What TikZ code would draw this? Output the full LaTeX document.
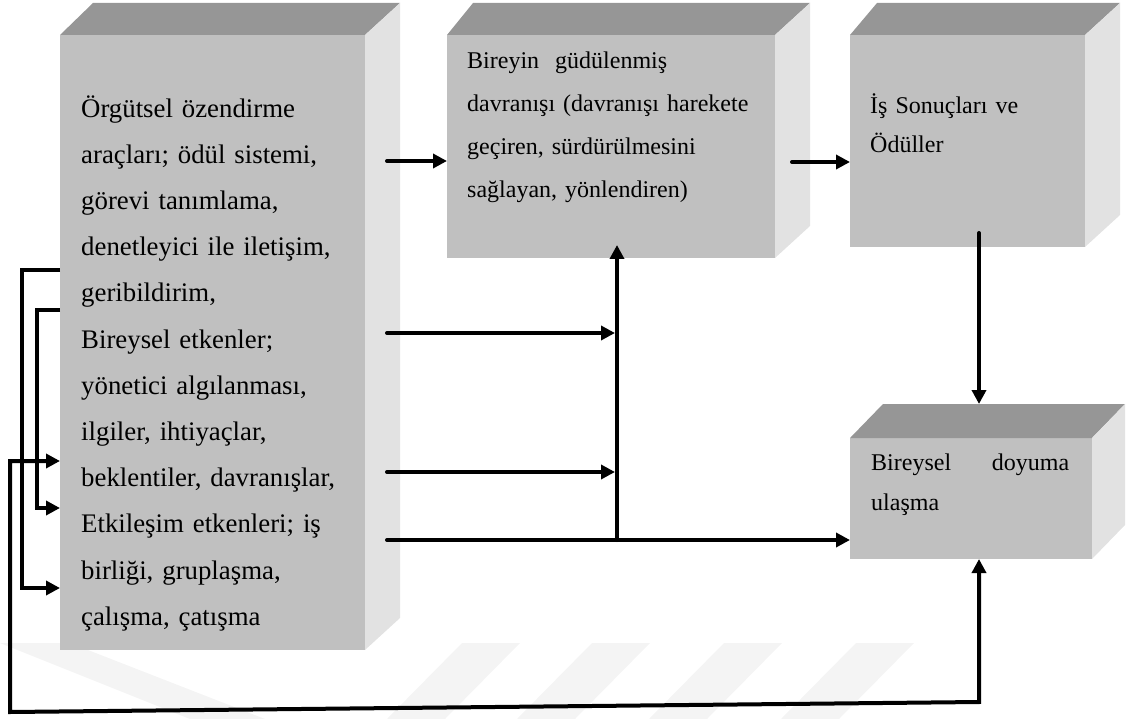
\documentclass[tikz,border=0pt]{standalone}
\usepackage{fontspec}
\setmainfont{Liberation Serif}
\usetikzlibrary{arrows.meta,calc}

\definecolor{facefront}{HTML}{C0C0C0}
\definecolor{facetop}{HTML}{969696}
\definecolor{faceside}{HTML}{E2E2E2}
\definecolor{markgray}{HTML}{F4F4F4}

\tikzset{
  frontface/.style={fill=facefront, draw=none, inner sep=0pt, outer sep=0pt, anchor=north west},
  topface/.style={fill=facetop},
  sideface/.style={fill=faceside},
  boxtext/.style={anchor=north west, inner sep=0pt, align=left, text width=#1},
  flow/.style={line width=4pt, line cap=round, -{Triangle[length=14pt,width=14pt]}},
  loopflow/.style={line width=4pt, {Triangle[length=14pt,width=14pt]}-{Triangle[length=14pt,width=14pt]}},
  watermark/.style={fill=markgray},
}

% top and right faces of a block whose front face is node #1
% #2: left slant, #3: right slant, #4: depth
\newcommand\cubefaces[4]{%
  \fill[topface] (#1.north west) -- ++(#2,-#4) -- ($(#1.north east)+(#3,-#4)$) -- (#1.north east) -- cycle;
  \fill[sideface] (#1.north east) -- ++(#3,-#4) -- ($(#1.south east)+(#3,-#4)$) -- (#1.south east) -- cycle;
}

\begin{document}
\begin{tikzpicture}[x=1pt,y=-1pt]
\useasboundingbox (0,0) rectangle (1129,719);

% faint background stripes
\fill[watermark] (0,643) -- (70,643) -- (265,719) -- (190,719) -- cycle;
\foreach \sx in {462,592,724,856}{
  \fill[watermark] (\sx,643) -- ({\sx+58},643) -- ({\sx-17},719) -- ({\sx-75},719) -- cycle;
}

% front faces
\node[frontface, minimum width=305pt, minimum height=615pt] (b1) at (60,35) {};
\node[frontface, minimum width=328pt, minimum height=223pt] (b2) at (447,35) {};
\node[frontface, minimum width=235pt, minimum height=212pt] (b3) at (850,35) {};
\node[frontface, minimum width=242pt, minimum height=121pt] (b4) at (850,438) {};

\cubefaces{b1}{33}{35}{32}
\cubefaces{b2}{26}{35}{32}
\cubefaces{b3}{27}{35}{32}
\cubefaces{b4}{33}{33}{34}

% texts
\node[boxtext=295pt, font=\fontsize{26.8pt}{46.2pt}\selectfont] (t1) at (81,87)
  {\rule{0pt}{30pt}Örgütsel özendirme\\
   araçları; ödül sistemi,\\
   görevi tanımlama,\\
   denetleyici ile iletişim,\\
   geribildirim,\\
   Bireysel etkenler;\\
   yönetici algılanması,\\
   ilgiler, ihtiyaçlar,\\
   beklentiler, davranışlar,\\
   Etkileşim etkenleri; iş\\
   birliği, gruplaşma,\\
   çalışma, çatışma};

\node[boxtext=305pt, font=\fontsize{24pt}{43pt}\selectfont] (t2) at (467,40)
  {\rule{0pt}{28pt}Bireyin\ \ güdülenmiş\\
   davranışı (davranışı harekete\\
   geçiren, sürdürülmesini\\
   sağlayan, yönlendiren)};

\node[boxtext=210pt, font=\fontsize{24pt}{39pt}\selectfont] (t3) at (870,85)
  {\rule{0pt}{28pt}İş Sonuçları ve\\
   Ödüller};

\node[boxtext=198pt, align=justify, font=\fontsize{24pt}{40pt}\selectfont] (t4) at (871,442)
  {\rule{0pt}{28pt}Bireysel\hfill doyuma\\
   ulaşma};

% connectors
\coordinate (jx) at (617,0);
\coordinate (s3) at (979,233);
\coordinate (b4top) at ($(b4.north west)+(33,-34)$);

\draw[flow] ([xshift=22pt]b1.east |- 0,161) -- (b2.west |- 0,161);
\draw[flow] ([xshift=17pt]b2.east |- 0,162) -- (b3.west |- 0,162);
\draw[flow] (s3) -- (s3 |- b4top);

\draw[flow] (387,333) -- ([xshift=-2pt]jx |- 0,333);
\draw[flow] (387,472) -- ([xshift=-2pt]jx |- 0,472);
\draw[flow] (387,540) -- (b4.west |- 0,540);
\draw[flow] (jx |- 0,540) -- ($(jx |- b2.south)+(0,-13)$);

% feedback loops on the left
\draw[flow, line cap=butt] (b1.west |- 0,270) -- (22,270) -- (22,588) -- (b1.west |- 0,588);
\draw[flow, line cap=butt] (b1.west |- 0,310) -- (37,310) -- (37,508) -- (b1.west |- 0,508);
\draw[loopflow] (b1.west |- 0,461) -- (10,461) -- (10,712) -- (979,702) -- (979,0 |- b4.south);
\end{tikzpicture}
\end{document}
